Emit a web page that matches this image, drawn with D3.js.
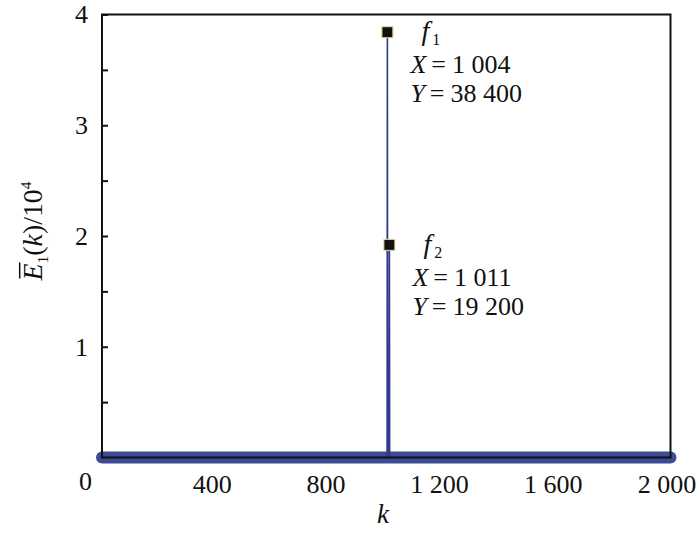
<!DOCTYPE html>
<html><head><meta charset="utf-8">
<script src="https://cdn.jsdelivr.net/npm/d3@7"></script>
<style>body{margin:0;background:#fff}</style></head>
<body><svg id="c" width="700" height="533"></svg>
<script>
// Spectrum samples (k, E)
const kSeries = [0, 1003, 1004, 1005, 1010, 1011, 1012, 2000];
const eSeries = [0, 0, 38400, 0, 0, 19200, 0, 0];
// Peaks
const peakNames = ["1", "2"];
const peakK = [1004, 1011];
const peakE = [38400, 19200];
const peakXText = ["1 004", "1 011"];
const peakYText = ["38 400", "19 200"];
// Ticks
const xTicks = [400, 800, 1200, 1600, 2000];
const xTickLabels = ["400", "800", "1 200", "1 600", "2 000"];
const yTicks = [1, 2, 3, 4];
const yMinorTicks = [0.5, 1.5, 2.5, 3.5];

const svg = d3.select("#c");
const FONT = "'Liberation Serif','Times New Roman',serif";
const x = d3.scaleLinear().domain([0, 2000]).range([102, 670.5]);
const y = d3.scaleLinear().domain([0, 4]).range([457.5, 14.5]);
const pts = kSeries.map((k, i) => ({k, e: eSeries[i]}));
const line = d3.line().x(d => x(d.k)).y(d => y(d.e / 10000));

// baseline band (near-zero samples)
svg.append("path").datum(pts.filter(d => d.e === 0))
  .attr("d", line).attr("fill", "none").attr("stroke", "#3d4a94")
  .attr("stroke-width", 12).attr("stroke-linecap", "round").attr("stroke-linejoin", "round");

// spectrum line
svg.append("path").datum(pts).attr("d", line).attr("fill", "none")
  .attr("stroke", "#2f3b90").attr("stroke-width", 1.6);

// axes frame
svg.append("rect").attr("x", x(0)).attr("y", y(4)).attr("width", x(2000) - x(0)).attr("height", y(0) - y(4))
  .attr("fill", "none").attr("stroke", "#111").attr("stroke-width", 2);

// y ticks (inward)
const yAxis = d3.axisRight(y).tickValues(yTicks.concat(yMinorTicks)).tickSize(6).tickFormat("");
svg.append("g").attr("transform", `translate(${x(0)},0)`).call(yAxis)
  .call(s => s.select(".domain").remove())
  .call(s => s.selectAll("line").attr("stroke", "#111").attr("stroke-width", 2));
svg.append("g").selectAll("text").data(yTicks).join("text")
  .attr("x", 88).attr("y", d => y(d)).attr("dy", "0.34em").attr("text-anchor", "end")
  .attr("font-family", FONT).attr("font-size", 26).attr("fill", "#111").text(d => d);

// x tick labels
const xAxis = d3.axisBottom(x).tickValues(xTicks).tickSize(0).tickFormat((d, i) => xTickLabels[i]);
svg.append("g").attr("transform", `translate(0,${y(0) + 14})`).call(xAxis)
  .call(s => s.select(".domain").remove())
  .call(s => s.selectAll("text").attr("font-family", FONT).attr("font-size", 26).attr("fill", "#111")
    .attr("dy", "0.71em").attr("dx", -4));
svg.append("text").attr("x", 85.5).attr("y", 490).attr("text-anchor", "middle")
  .attr("font-family", FONT).attr("font-size", 26).attr("fill", "#111").text("0");

// x label
svg.append("text").attr("x", 383).attr("y", 523).attr("text-anchor", "middle")
  .attr("font-family", FONT).attr("font-size", 27).attr("font-style", "italic").attr("fill", "#111").text("k");

// y label
const yl = svg.append("g").attr("transform", "translate(42,231) rotate(-90)");
const yt = yl.append("text").attr("text-anchor", "middle").attr("font-family", FONT).attr("fill", "#111");
const base = 30;
const parts = [
  {t: "E", it: true, s: 1, dy: 0},
  {t: "1", it: false, s: 0.55, dy: 0.2},
  {t: "(", it: false, s: 1, dy: -0.2},
  {t: "k", it: true, s: 1, dy: 0},
  {t: ")/10", it: false, s: 1, dy: 0},
  {t: "4", it: false, s: 0.55, dy: -0.38}
];
function drawLabel(fs) {
  yt.selectAll("tspan").remove();
  parts.forEach(p => {
    yt.append("tspan").attr("font-style", p.it ? "italic" : "normal")
      .attr("font-size", fs * p.s).attr("dy", fs * p.dy).text(p.t);
  });
}
drawLabel(base);
const len = yt.node().getComputedTextLength();
const fs = base * 99 / len;
drawLabel(fs);
const ext = yt.node().getExtentOfChar(0);
yl.append("line").attr("x1", ext.x + 2).attr("x2", ext.x + ext.width + 1)
  .attr("y1", -fs * 0.8).attr("y2", -fs * 0.8).attr("stroke", "#111").attr("stroke-width", 1.5);

// peak markers
svg.append("g").selectAll("rect").data(peakK).join("rect")
  .attr("x", d => x(d) - 5.5).attr("y", (d, i) => y(peakE[i] / 10000) - 5.5)
  .attr("width", 11).attr("height", 11).attr("fill", "#141210")
  .attr("stroke", "#e9dc9a").attr("stroke-width", 1);

// annotations
peakK.forEach((k, i) => {
  const px = x(k), py = y(peakE[i] / 10000);
  const t = svg.append("g").attr("font-family", FONT).attr("font-size", 26).attr("fill", "#111");
  const f = t.append("text").attr("x", px + 34).attr("y", py + 8);
  f.append("tspan").attr("font-style", "italic").attr("font-size", 28).text("f");
  f.append("tspan").attr("font-size", 16).attr("dx", 3).attr("dy", 5).text(peakNames[i]);
  const a = t.append("text").attr("x", px + 23).attr("y", py + 41);
  a.append("tspan").attr("font-style", "italic").text("X");
  a.append("tspan").attr("dx", 5).text("=");
  a.append("tspan").attr("dx", 6).text(peakXText[i]);
  const b = t.append("text").attr("x", px + 23).attr("y", py + 70);
  b.append("tspan").attr("font-style", "italic").text("Y");
  b.append("tspan").attr("dx", 5).text("=");
  b.append("tspan").attr("dx", 6).text(peakYText[i]);
});
</script></body></html>
